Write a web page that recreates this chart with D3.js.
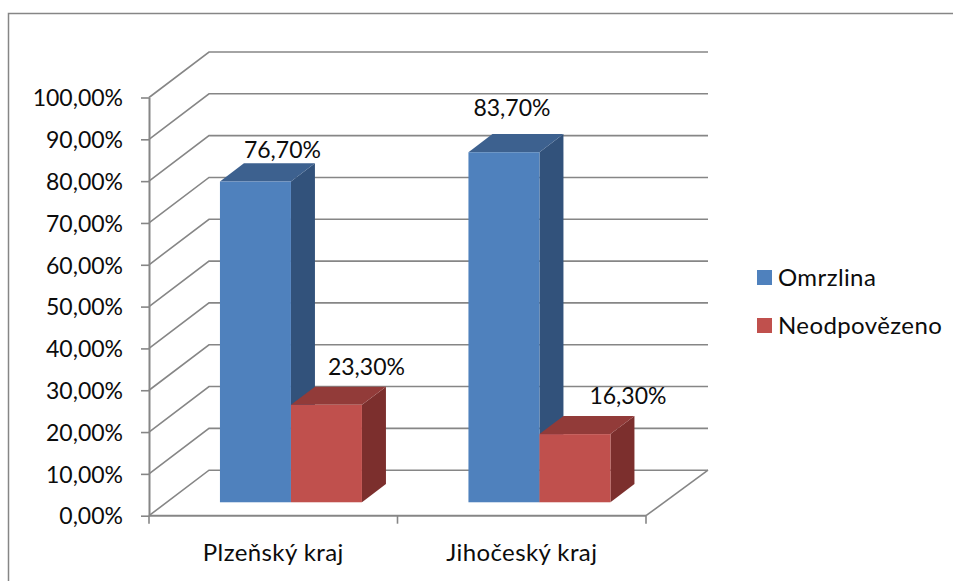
<!DOCTYPE html>
<html>
<head>
<meta charset="utf-8">
<script src="https://cdn.jsdelivr.net/npm/d3@7/dist/d3.min.js"></script>
<style>
  html, body { margin: 0; padding: 0; background: #fff; }
  svg { display: block; }
  text { font-family: Lato, "Open Sans", sans-serif; fill: #0c0c0c; }
</style>
</head>
<body>
<svg id="chart" width="953" height="581"></svg>
<script>
// Chart data
const categories = ["Plzeňský kraj", "Jihočeský kraj"];
const seriesNames = ["Omrzlina", "Neodpovězeno"];
const omrzlina = [76.7, 83.7];
const neodpovezeno = [23.3, 16.3];
const valueTicks = [0, 10, 20, 30, 40, 50, 60, 70, 80, 90, 100];

const seriesValues = [omrzlina, neodpovezeno];
const faceColors = [
  { front: "#4f81bd", top: "#3d618f", side: "#32527b" },
  { front: "#c0504d", top: "#923b39", side: "#7c2f2d" }
];

const svg = d3.select("#chart");
const axisColor = "#868686";
const fontSize = 23;
const wordSize = 24;
const wordSpacing = 0.4;
const pct = v => d3.format(".2f")(v).replace(".", ",") + "%";

// Scales for the front plane of the 3D box
const y = d3.scaleLinear().domain([0, 100]).range([515.7, 97.5]);
const x = d3.scaleBand().domain(categories).range([149, 646]);
const seriesX = d3.scaleBand().domain(d3.range(seriesNames.length))
  .range([0, x.bandwidth()]).paddingOuter(0.75).paddingInner(0);

// Depth of the box, and of the bars standing inside it
const wallDx = 60, wallDy = -45.5, wallRightDx = 62;
const barInset = 0.295, barDepth = 0.4;

// Chart frame
svg.append("path")
  .attr("d", "M8.5,581V13.5H953")
  .attr("fill", "none").attr("stroke", axisColor).attr("stroke-width", 1.5);

// Gridlines: along the side wall, then along the back wall
svg.append("g").selectAll("path").data(valueTicks).join("path")
  .attr("d", v => d3.line()([
    [x.range()[0], y(v)],
    [x.range()[0] + wallDx, y(v) + wallDy],
    [x.range()[1] + wallRightDx, y(v) + wallDy]
  ]))
  .attr("fill", "none").attr("stroke", axisColor).attr("stroke-width", 1.6);

// Right edge of the floor
svg.append("line")
  .attr("x1", x.range()[1]).attr("y1", y(0))
  .attr("x2", x.range()[1] + wallRightDx).attr("y2", y(0) + wallDy)
  .attr("stroke", axisColor).attr("stroke-width", 1.6);

// Value axis
const yAxis = svg.append("g").attr("transform", `translate(${x.range()[0]},0)`)
  .call(d3.axisLeft(y).tickValues(valueTicks).tickFormat(pct).tickSize(8).tickSizeOuter(0).tickPadding(18));
yAxis.select(".domain").attr("stroke", axisColor).attr("stroke-width", 2);
yAxis.selectAll(".tick line").attr("stroke", axisColor).attr("stroke-width", 1.6);
yAxis.selectAll(".tick text").attr("font-size", fontSize).attr("dy", "0.36em")
  .attr("font-family", "Lato").attr("fill", "#0c0c0c");

// Category axis line and tick marks between the categories
svg.append("line")
  .attr("x1", x.range()[0]).attr("x2", x.range()[1])
  .attr("y1", y(0)).attr("y2", y(0))
  .attr("stroke", axisColor).attr("stroke-width", 2);
svg.append("g").selectAll("line")
  .data([x.range()[0], x(categories[1]), x.range()[1]]).join("line")
  .attr("x1", d => d).attr("x2", d => d)
  .attr("y1", y(0)).attr("y2", y(0) + 8)
  .attr("stroke", axisColor).attr("stroke-width", 1.6);

svg.append("g").selectAll("text").data(categories).join("text")
  .attr("x", d => x(d) + x.bandwidth() / 2)
  .attr("y", 561)
  .attr("text-anchor", "middle")
  .attr("font-size", wordSize)
  .attr("letter-spacing", wordSpacing)
  .text(d => d);

// Bars, each drawn as a front, top and side face
const insetX = wallDx * barInset, insetY = wallDy * barInset;
const depthX = wallDx * barDepth, depthY = wallDy * barDepth;

const bars = [];
categories.forEach((cat, c) => {
  seriesValues.forEach((values, s) => {
    bars.push({ cat, s, value: values[c] });
  });
});

const barG = svg.append("g").selectAll("g").data(bars).join("g");
barG.each(function (d) {
  const g = d3.select(this);
  const x0 = x(d.cat) + seriesX(d.s) + insetX;
  const x1 = x0 + seriesX.bandwidth();
  const yTop = y(d.value) + insetY;
  const yBase = y(0) + insetY;
  const c = faceColors[d.s];
  const poly = pts => d3.line().curve(d3.curveLinearClosed)(pts);
  g.append("path").attr("fill", c.side).attr("d", poly([
    [x1, yTop], [x1 + depthX, yTop + depthY], [x1 + depthX, yBase + depthY], [x1, yBase]
  ]));
  g.append("path").attr("fill", c.top).attr("d", poly([
    [x0, yTop], [x0 + depthX, yTop + depthY], [x1 + depthX, yTop + depthY], [x1, yTop]
  ]));
  g.append("rect").attr("fill", c.front)
    .attr("x", x0).attr("y", yTop)
    .attr("width", x1 - x0).attr("height", yBase - yTop);
});

// Value labels, hand-placed above each bar
const labelNudge = [[27, -24], [40, -30], [8, -36], [53, -30]];
svg.append("g").selectAll("text").data(bars).join("text")
  .attr("x", (d, i) => x(d.cat) + seriesX(d.s) + insetX + seriesX.bandwidth() / 2 + labelNudge[i][0])
  .attr("y", (d, i) => y(d.value) + insetY + labelNudge[i][1])
  .attr("text-anchor", "middle")
  .attr("font-size", fontSize)
  .text(d => pct(d.value));

// Legend
const legendY = d3.scalePoint().domain(seriesNames).range([277.5, 325.5]);
const legend = svg.append("g").selectAll("g").data(seriesNames).join("g")
  .attr("transform", d => `translate(757,${legendY(d)})`);
legend.append("rect")
  .attr("x", 0).attr("y", -7.5).attr("width", 15).attr("height", 15)
  .attr("fill", (d, i) => faceColors[i].front);
legend.append("text")
  .attr("x", 21).attr("y", 8)
  .attr("font-size", wordSize)
  .attr("letter-spacing", wordSpacing)
  .text(d => d);
</script>
</body>
</html>
